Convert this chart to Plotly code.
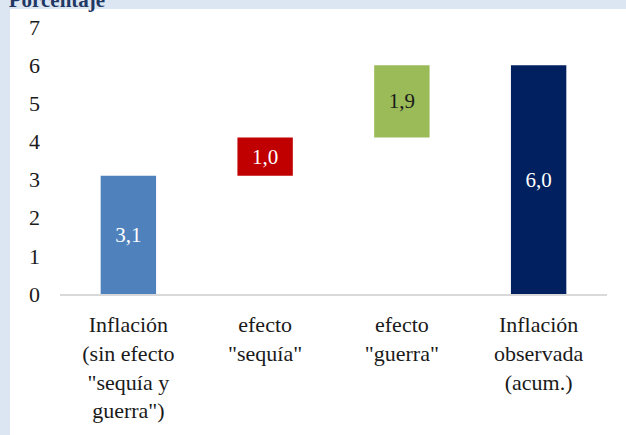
import plotly.graph_objects as go

# Descomposición de la inflación acumulada (porcentaje)
categorias = [
    "Inflación<br>(sin efecto<br>\"sequía y<br>guerra\")",
    "efecto<br>\"sequía\"",
    "efecto<br>\"guerra\"",
    "Inflación<br>observada<br>(acum.)",
]
valores = [3.1, 1.0, 1.9, 6.0]
tipo = ["absoluto", "relativo", "relativo", "total"]
colores = ["#4F81BD", "#C00000", "#9BBB59", "#002060"]
color_texto = ["#FFFFFF", "#FFFFFF", "#1A1A1A", "#FFFFFF"]
ticks_y = [0, 1, 2, 3, 4, 5, 6, 7]

# Base de cada barra: los efectos flotan sobre el acumulado previo
bases = []
acumulado = 0.0
for v, t in zip(valores, tipo):
    if t == "relativo":
        bases.append(acumulado)
        acumulado += v
    else:
        bases.append(0)
        acumulado = v

FUENTE = "Liberation Serif"

fig = go.Figure(
    go.Bar(
        x=categorias,
        y=valores,
        base=bases,
        marker=dict(color=colores, line=dict(width=0)),
        width=0.405,
        text=[f"{v:.1f}".replace(".", ",") for v in valores],
        textposition="inside",
        insidetextanchor="middle",
        textangle=0,
        textfont=dict(family=FUENTE, size=21, color=color_texto),
        hoverinfo="skip",
    )
)

fig.update_layout(
    width=626,
    height=435,
    margin=dict(l=60, r=19, t=27, b=141),
    paper_bgcolor="#DCE6F2",
    plot_bgcolor="rgba(0,0,0,0)",
    showlegend=False,
    font=dict(family=FUENTE, size=22, color="#1A1A1A"),
    title=dict(
        text="<b>Porcentaje</b>",
        font=dict(family=FUENTE, size=21, color="#1F3864"),
        xref="container",
        yref="container",
        x=0.014,
        xanchor="left",
        y=1.0,
        yanchor="middle",
    ),
    shapes=[
        dict(
            type="rect",
            xref="paper",
            yref="paper",
            x0=-0.0914,
            x1=1.04,
            y0=-0.53,
            y1=1.067,
            fillcolor="#FFFFFF",
            line=dict(width=0),
            layer="below",
        )
    ],
)

fig.update_xaxes(
    showline=True,
    linecolor="#D9D9D9",
    linewidth=2,
    showgrid=False,
    zeroline=False,
    ticks="",
    tickfont=dict(family=FUENTE, size=22, color="#1A1A1A"),
    ticklabelstandoff=10,
)

fig.update_yaxes(
    range=[0, 7],
    tickvals=ticks_y,
    ticktext=[str(t) for t in ticks_y],
    showgrid=False,
    zeroline=False,
    showline=False,
    ticks="",
    tickfont=dict(family=FUENTE, size=22, color="#1A1A1A"),
    ticklabelstandoff=19,
)

fig.write_html("out.html")
